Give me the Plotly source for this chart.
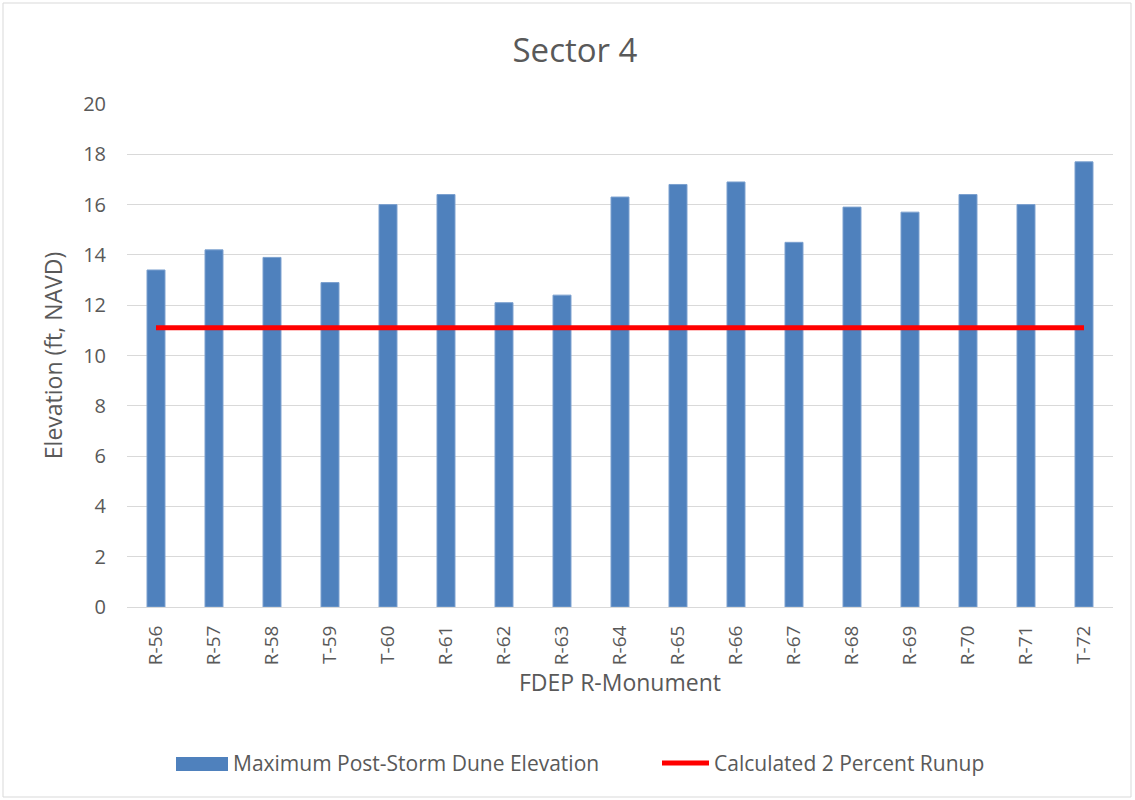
import plotly.graph_objects as go

monuments = ["R-56", "R-57", "R-58", "T-59", "T-60", "R-61", "R-62", "R-63", "R-64",
             "R-65", "R-66", "R-67", "R-68", "R-69", "R-70", "R-71", "T-72"]
dune_elevation = [13.4, 14.2, 13.9, 12.9, 16.0, 16.4, 12.1, 12.4, 16.3,
                  16.8, 16.9, 14.5, 15.9, 15.7, 16.4, 16.0, 17.7]
runup_2pct = [11.1, 11.1, 11.1, 11.1, 11.1, 11.1, 11.1, 11.1, 11.1,
              11.1, 11.1, 11.1, 11.1, 11.1, 11.1, 11.1, 11.1]

bar_name = "Maximum Post-Storm Dune Elevation"
line_name = "Calculated 2 Percent Runup"

FONT = "Open Sans, sans-serif"
GREY = "#595959"
BLUE = "#4f81bd"
RED = "#ff0000"

fig = go.Figure()
fig.add_trace(go.Bar(
    x=monuments, y=dune_elevation, name=bar_name,
    marker=dict(color=BLUE, line=dict(color="#7ba0cf", width=1)),
))
fig.add_trace(go.Scatter(
    x=monuments, y=runup_2pct, name=line_name,
    mode="lines", line=dict(color=RED, width=5),
))

# page pixels (body margin removed below)
W, H = 1135, 800
L, R, T, B = 127, 1113, 104, 607
pw, ph = R - L, B - T


def px(x):
    return (x - L) / pw


def py(y):
    return (B - y) / ph


# legend drawn by hand so the swatches are wide like the original
legend_shapes = [
    dict(type="rect", xref="paper", yref="paper", x0=px(176), x1=px(228),
         y0=py(771), y1=py(757), fillcolor=BLUE, line=dict(width=0)),
    dict(type="line", xref="paper", yref="paper", x0=px(662), x1=px(709),
         y0=py(763), y1=py(763), line=dict(color=RED, width=5)),
]
legend_notes = [
    dict(text=bar_name, xref="paper", yref="paper", x=px(231), y=py(763),
         xanchor="left", yanchor="middle", showarrow=False,
         font=dict(size=21, color=GREY, family=FONT)),
    dict(text=line_name, xref="paper", yref="paper", x=px(712), y=py(763),
         xanchor="left", yanchor="middle", showarrow=False,
         font=dict(size=21, color=GREY, family=FONT)),
]

fig.update_layout(
    width=W, height=H,
    margin=dict(l=L, r=W - R, t=T, b=H - B),
    paper_bgcolor="white", plot_bgcolor="white",
    font=dict(family=FONT, color=GREY, size=18),
    bargap=0.69,
    showlegend=False,
    title=dict(text="Sector 4", x=575 / W, xanchor="center",
               y=1 - 50 / H, yanchor="middle",
               font=dict(size=33, color=GREY, family=FONT)),
    xaxis=dict(
        tickangle=-90, tickfont=dict(size=19, color=GREY),
        showline=True, linecolor="#d9d9d9", linewidth=1,
        ticks="outside", ticklen=10, tickcolor="rgba(0,0,0,0)",
        title=dict(text="FDEP R-Monument", font=dict(size=23, color=GREY), standoff=10),
    ),
    yaxis=dict(
        range=[0, 20], dtick=2, tickfont=dict(size=20, color=GREY),
        showgrid=True, gridcolor="#d9d9d9", gridwidth=1, zeroline=False,
        ticks="outside", ticklen=16, tickcolor="rgba(0,0,0,0)",
        title=dict(text="Elevation (ft, NAVD)", font=dict(size=23, color=GREY), standoff=14),
    ),
    shapes=[dict(
        type="rect", xref="paper", yref="paper",
        x0=px(3), x1=px(1131), y0=py(797), y1=py(3),
        line=dict(color="#d9d9d9", width=1), fillcolor="rgba(0,0,0,0)", layer="below",
    )] + legend_shapes,
    annotations=legend_notes,
)

fig.write_html("out.html", config={"displayModeBar": False},
               post_script="document.body.style.margin='0';")
